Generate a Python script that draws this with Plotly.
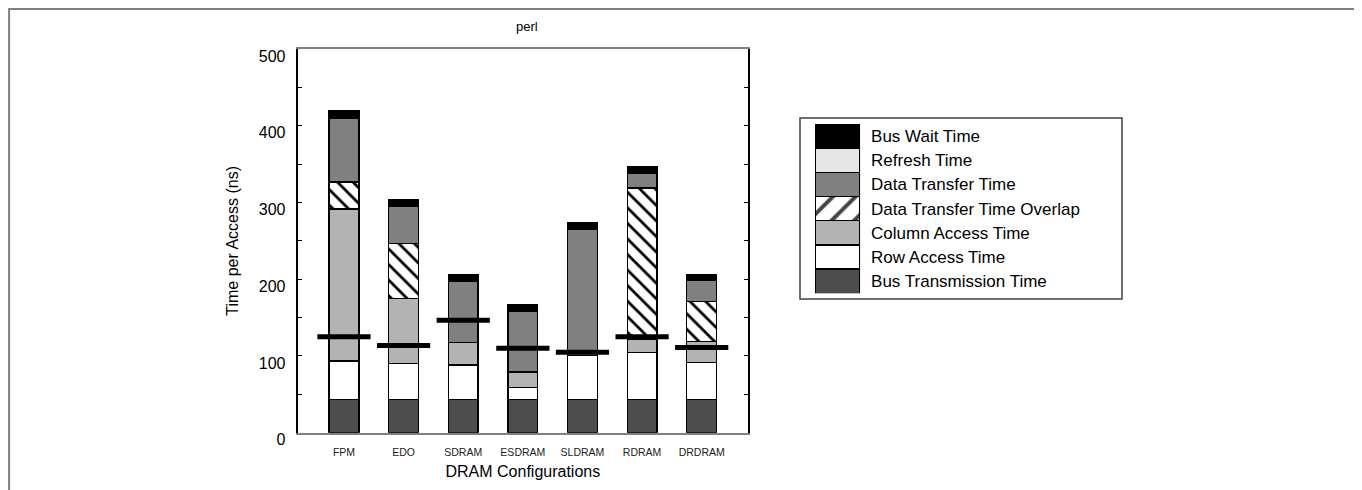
import plotly.graph_objects as go

# DRAM configurations (perl benchmark)
configs = ['FPM', 'EDO', 'SDRAM', 'ESDRAM', 'SLDRAM', 'RDRAM', 'DRDRAM']

# time components in ns, stacked bottom -> top
bus_transmission = [43, 43, 43, 43, 43, 43, 43]
row_access = [50.5, 47.5, 45.3, 16, 57.4, 61.8, 48.3]
column_access = [198, 84.5, 29.5, 20, 0, 17, 27.3]
transfer_overlap = [35, 72, 0, 0, 0, 197, 52.2]
data_transfer = [83.5, 47.5, 79, 78.6, 164, 19.4, 27.2]
refresh = [1, 1, 1, 1, 1, 1, 1]
bus_wait = [8.8, 8.5, 8.7, 8.7, 8.7, 7.8, 7.5]

# thick black marker line on each bar
marker_lines = [125, 113.5, 146.5, 110, 104.8, 125, 111]

series = [
    ('Bus Transmission Time', bus_transmission, '#4d4d4d', ''),
    ('Row Access Time', row_access, '#ffffff', ''),
    ('Column Access Time', column_access, '#b3b3b3', ''),
    ('Data Transfer Time Overlap', transfer_overlap, '#ffffff', '\\'),
    ('Data Transfer Time', data_transfer, '#808080', ''),
    ('Refresh Time', refresh, '#e6e6e6', ''),
    ('Bus Wait Time', bus_wait, '#000000', ''),
]

FONT = 'Liberation Sans, Arial, sans-serif'

fig = go.Figure()

for name, vals, color, shape in series:
    fig.add_trace(go.Bar(
        x=configs,
        y=vals,
        name=name,
        width=0.5,
        marker=dict(
            color=color,
            line=dict(color='black', width=1.3),
            pattern=dict(shape=shape, fgcolor='black', bgcolor='white',
                         fgopacity=1, size=11, solidity=0.25),
        ),
        showlegend=False,
    ))

fig.add_trace(go.Scatter(
    x=configs,
    y=marker_lines,
    mode='markers',
    marker=dict(symbol='line-ew', size=38, line=dict(color='black', width=5)),
    showlegend=False,
))

# hand-made legend: big swatches as bars on a second pair of axes
legend_names = [s[0] for s in series][::-1]
legend_colors = [s[2] for s in series][::-1]
legend_shapes = ['/' if s[3] else '' for s in series][::-1]

fig.add_trace(go.Bar(
    x=[1] * len(legend_names),
    y=legend_names,
    orientation='h',
    width=1,
    xaxis='x2',
    yaxis='y2',
    marker=dict(
        color=legend_colors,
        line=dict(color='black', width=1.3),
        pattern=dict(shape=legend_shapes, fgcolor='black', bgcolor='white',
                     fgopacity=1, size=16, solidity=0.25),
    ),
    showlegend=False,
    hoverinfo='skip',
))

fig.update_layout(
    barmode='stack',
    width=1362,
    height=490,
    margin=dict(l=0, r=0, t=0, b=0, autoexpand=False),
    paper_bgcolor='white',
    plot_bgcolor='white',
    font=dict(family=FONT, color='black'),
    title=dict(text='perl', x=0.381, y=0.9616, xanchor='center', yanchor='middle',
               font=dict(size=13, family=FONT, color='black')),
    xaxis=dict(
        domain=[0.2127, 0.5433],
        title=dict(text='DRAM Configurations', font=dict(size=16), standoff=9),
        tickfont=dict(size=10.5, color='#222'),
        ticklabelstandoff=9,
        showline=True, linecolor='#808080', linewidth=2, mirror=True,
        ticks='', showgrid=False,
    ),
    yaxis=dict(
        domain=[0.1333, 0.9163],
        range=[0, 500],
        dtick=100,
        title=dict(text='Time per Access (ns)', font=dict(size=16), standoff=16),
        tickfont=dict(size=16),
        showline=True, linecolor='black', linewidth=2, mirror='ticks',
        ticks='inside', ticklen=4, tickcolor='black',
        minor=dict(dtick=50, ticks='inside', ticklen=4, tickcolor='black'),
        ticklabelstandoff=7,
        ticklabelshift=7,
        showgrid=False, zeroline=False,
    ),
    xaxis2=dict(
        domain=[0.5925, 0.6256],
        range=[0, 1],
        anchor='y2',
        visible=False,
    ),
    yaxis2=dict(
        domain=[0.4178, 0.7633],
        anchor='x2',
        side='right',
        autorange='reversed',
        tickfont=dict(size=17),
        ticks='',
        ticklabelstandoff=10,
        showline=False, showgrid=False, zeroline=False,
    ),
    shapes=[
        # outer frame
        dict(type='rect', xref='paper', yref='paper', x0=0.0008, x1=0.9927,
             y0=-0.1, y1=0.998, line=dict(color='#808080', width=2)),
        dict(type='line', xref='paper', yref='paper', x0=0.9927, x1=0.9927,
             y0=-0.1, y1=0.998, line=dict(color='black', width=2)),
        # legend box
        dict(type='rect', xref='paper', yref='paper', x0=0.5815, x1=0.8179,
             y0=0.4061, y1=0.7755, line=dict(color='#404040', width=1.5)),
    ],
)

fig.write_html('out.html')
